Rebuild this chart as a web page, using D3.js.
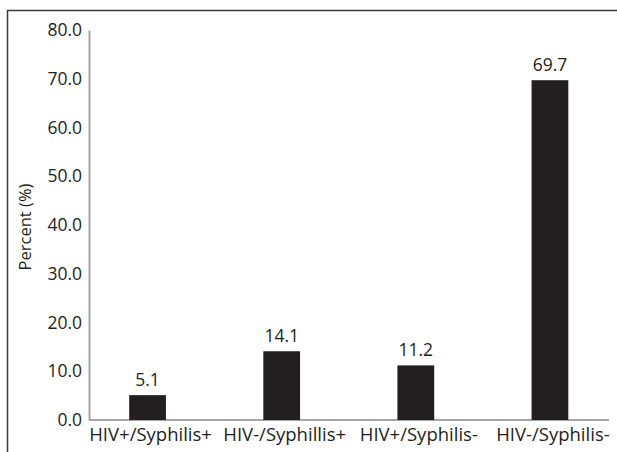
<!DOCTYPE html>
<html>
<head>
<meta charset="utf-8">
<script src="https://cdn.jsdelivr.net/npm/d3@7"></script>
<style>
  body { margin: 0; background: #fff; }
  text { font-family: "Open Sans", sans-serif; fill: #231f20; }
</style>
</head>
<body>
<svg id="chart" width="617" height="452"></svg>
<script>
// chart values
const categories = ["HIV+/Syphilis+", "HIV-/Syphillis+", "HIV+/Syphilis-", "HIV-/Syphilis-"];
const percents = [5.1, 14.1, 11.2, 69.7];
const yTicks = [0, 10, 20, 30, 40, 50, 60, 70, 80];

const svg = d3.select("#chart");

// outer frame (left and top edges only are visible)
svg.append("path")
    .attr("d", "M7.5,452 L7.5,10.5 L617,10.5")
    .attr("fill", "none")
    .attr("stroke", "#3a3a3a")
    .attr("stroke-width", 1.5);

const y = d3.scaleLinear().domain([0, 80]).range([420, 30]);
const x = d3.scaleBand()
    .domain(categories)
    .range([80.5, 617])
    .paddingInner(0.726)
    .paddingOuter(0.363);

// y axis: line only, no tick marks
const yAxis = d3.axisLeft(y)
    .tickValues(yTicks)
    .tickSize(0)
    .tickPadding(7)
    .tickFormat(d3.format(".1f"));

const yg = svg.append("g")
    .attr("transform", "translate(89,0)")
    .call(yAxis);
yg.select(".domain").attr("stroke", "#a6a6a6").attr("stroke-width", 2);
yg.selectAll("text")
    .attr("font-size", 17.5)
    .attr("font-family", "Open Sans")
    .attr("fill", "#231f20");

// x axis baseline
svg.append("line")
    .attr("x1", 89).attr("x2", 609)
    .attr("y1", y(0)).attr("y2", y(0))
    .attr("stroke", "#a6a6a6")
    .attr("stroke-width", 2);

// bars
svg.selectAll("rect.bar")
    .data(percents)
    .enter().append("rect")
    .attr("class", "bar")
    .attr("x", (d, i) => x(categories[i]))
    .attr("width", x.bandwidth())
    .attr("y", d => y(d))
    .attr("height", d => y(0) - y(d))
    .attr("fill", "#231f20");

// value labels
svg.selectAll("text.val")
    .data(percents)
    .enter().append("text")
    .attr("class", "val")
    .attr("x", (d, i) => x(categories[i]) + x.bandwidth() / 2)
    .attr("y", d => y(d) - 9)
    .attr("text-anchor", "middle")
    .attr("font-size", 17.5)
    .text(d => d.toFixed(1));

// category labels
svg.selectAll("text.cat")
    .data(categories)
    .enter().append("text")
    .attr("class", "cat")
    .attr("x", d => x(d) + x.bandwidth() / 2 + 3)
    .attr("y", 441)
    .attr("text-anchor", "middle")
    .attr("font-size", 18.5)
    .text(d => d);

// y title
svg.append("text")
    .attr("transform", "translate(31,227) rotate(-90)")
    .attr("text-anchor", "middle")
    .attr("font-size", 16.5)
    .text("Percent (%)");
</script>
</body>
</html>
